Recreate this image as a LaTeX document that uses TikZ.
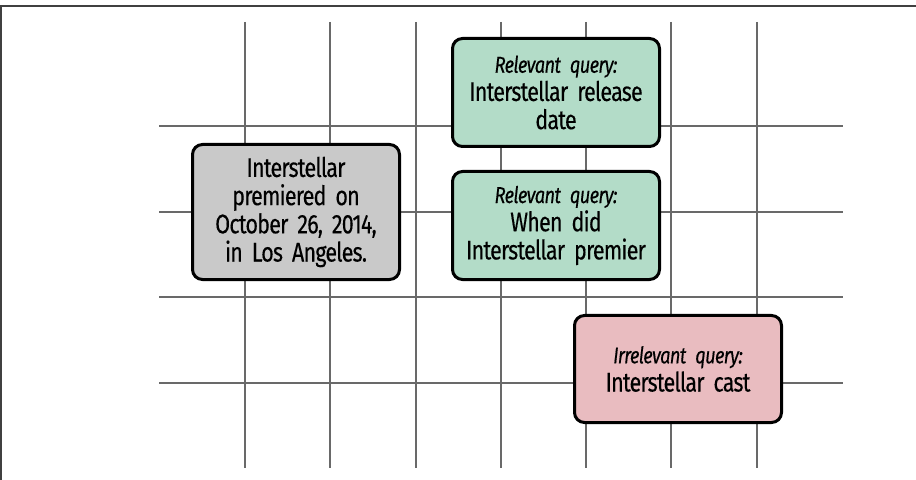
\documentclass[tikz,border=0pt]{standalone}
\usepackage{fontspec}
\setmainfont{Fira Sans}[FakeStretch=0.8, LetterSpace=-3, WordSpace=0.75, FakeBold=0.3]
\usepackage{xcolor}
\usetikzlibrary{positioning}

\definecolor{gridgray}{RGB}{105,105,105}
\definecolor{passagegray}{RGB}{201,201,201}
\definecolor{relgreen}{RGB}{179,220,200}
\definecolor{irrelred}{RGB}{233,188,192}

\newcommand{\querytag}[1]{{\fontsize{23}{28}\selectfont\itshape #1}}

\begin{document}
\begin{tikzpicture}[
    x=1bp, y=-1bp,
    gridline/.style={draw=gridgray, line width=2bp},
    card/.style={rectangle, draw=black, line width=3bp, rounded corners=10bp, text width=200bp, align=center, minimum width=207bp, inner sep=0pt, font=\fontsize{27}{28.3}\selectfont},
    passage/.style={card, fill=passagegray, minimum height=135bp},
    relevant/.style={card, fill=relgreen, minimum height=108bp},
    irrelevant/.style={card, fill=irrelred, minimum height=107bp}
]
\useasboundingbox (0,0) rectangle (916,480);

% frame
\draw[draw=black!75, line width=2bp] (1,480) -- (1,6.5) -- (916,6.5);

% embedding grid
\foreach \gx in {244.5,330,415.5,500.5,586,671,756.5}
    \draw[gridline] (\gx,22) -- (\gx,468);
\foreach \gy in {126.5,212,297.3,382.7}
    \draw[gridline] (159,\gy) -- (843,\gy);

% passage and queries
\node[passage] (doc) at (296,212) {Interstellar\\ premiered on\\ October 26, 2014,\\ in Los Angeles.};
\node[relevant] (qdate) at (556,92.5) {\querytag{Relevant query:}\\ Interstellar release\\ date};
\node[relevant, below=22bp of qdate] (qpremier) {\querytag{Relevant query:}\\ When did\\ Interstellar premier};
\node[irrelevant] (qcast) at (678,369) {\querytag{Irrelevant query:}\\ Interstellar cast};

\end{tikzpicture}
\end{document}
